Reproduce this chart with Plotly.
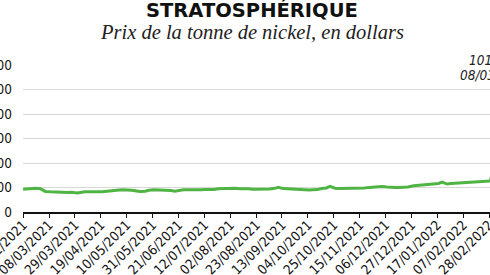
import plotly.graph_objects as go

# ---- data ----
dates = [
    "2021-02-15", "2021-02-18", "2021-02-22", "2021-02-25", "2021-03-01", "2021-03-03",
    "2021-03-05", "2021-03-09", "2021-03-12", "2021-03-16", "2021-03-19", "2021-03-23",
    "2021-03-26", "2021-03-31", "2021-04-06", "2021-04-09", "2021-04-13", "2021-04-16",
    "2021-04-20", "2021-04-23", "2021-04-27", "2021-04-30", "2021-05-04", "2021-05-07",
    "2021-05-11", "2021-05-14", "2021-05-18", "2021-05-21", "2021-05-25", "2021-05-28",
    "2021-06-01", "2021-06-04", "2021-06-08", "2021-06-11", "2021-06-15", "2021-06-18",
    "2021-06-22", "2021-06-25", "2021-06-29", "2021-07-02", "2021-07-06", "2021-07-09",
    "2021-07-13", "2021-07-16", "2021-07-20", "2021-07-23", "2021-07-27", "2021-07-30",
    "2021-08-03", "2021-08-06", "2021-08-10", "2021-08-13", "2021-08-17", "2021-08-20",
    "2021-08-24", "2021-08-27", "2021-08-31", "2021-09-03", "2021-09-07", "2021-09-10",
    "2021-09-14", "2021-09-17", "2021-09-21", "2021-09-24", "2021-09-28", "2021-10-01",
    "2021-10-05", "2021-10-08", "2021-10-12", "2021-10-15", "2021-10-19", "2021-10-22",
    "2021-10-26", "2021-10-29", "2021-11-02", "2021-11-05", "2021-11-09", "2021-11-12",
    "2021-11-16", "2021-11-19", "2021-11-23", "2021-11-26", "2021-11-30", "2021-12-03",
    "2021-12-07", "2021-12-10", "2021-12-14", "2021-12-17", "2021-12-21", "2021-12-24",
    "2021-12-29", "2022-01-04", "2022-01-07", "2022-01-11", "2022-01-14", "2022-01-18",
    "2022-01-21", "2022-01-25", "2022-01-28", "2022-02-01", "2022-02-04", "2022-02-08",
    "2022-02-11", "2022-02-15", "2022-02-18", "2022-02-22", "2022-02-25", "2022-02-28",
    "2022-03-01", "2022-03-07", "2022-03-08",
]
prices = [
    18650, 18900, 19450, 19300, 19000, 17600,
    16800, 16500, 16300, 16200, 16100, 16000,
    16100, 15600, 16500, 16700, 16500, 16600,
    16500, 16900, 17500, 17900, 18000, 18200,
    18100, 17800, 17200, 16700, 16900, 17800,
    18100, 18000, 18200, 18000, 17500, 16900,
    17800, 18200, 18100, 18300, 18100, 18200,
    18400, 18200, 18400, 18900, 19100, 19200,
    19000, 19300, 19000, 19200, 18900, 18500,
    18600, 18700, 18500, 18800, 19300, 20100,
    19100, 18900, 18700, 18900, 18600, 18000,
    17900, 18100, 18300, 19100, 19600, 20900,
    19400, 19100, 19200, 19000, 19200, 19300,
    19100, 19600, 20100, 20300, 20600, 20800,
    20400, 20000, 19900, 20000, 20100, 20500,
    21500, 22000, 22200, 22300, 22500, 23300,
    24400, 22800, 23200, 23500, 23800, 23700,
    23900, 24100, 24700, 25000, 25200, 25000,
    25300, 48000, 101365,
]
tick_dates = [
    "2021-02-15", "2021-03-08", "2021-03-29", "2021-04-19", "2021-05-10", "2021-05-31",
    "2021-06-21", "2021-07-12", "2021-08-02", "2021-08-23", "2021-09-13", "2021-10-04",
    "2021-10-25", "2021-11-15", "2021-12-06", "2021-12-27", "2022-01-17", "2022-02-07",
    "2022-02-28",
]
y_ticks = [0, 20000, 40000, 60000, 80000, 100000, 120000]
y_labels = ["0", "20.000", "40.000", "60.000", "80.000", "100.000", "120.000"]
title = "STRATOSPHÉRIQUE"
subtitle = "Prix de la tonne de nickel, en dollars"
peak_value_label = "101.365"
peak_date_label = "08/03/2022"

W, H = 490, 275
L, R, T, B = 23, 0, 65, 63
PW, PH = W - L - R, H - T - B

def px_x(p):
    return (p - L) / PW

def px_y(p):
    return (H - B - p) / PH

cond = "Liberation Sans Narrow, DejaVu Sans Condensed, Arial Narrow, sans-serif"

fig = go.Figure()
fig.add_trace(go.Scatter(
    x=dates, y=prices, mode="lines",
    line=dict(color="#4fb444", width=3),
    hoverinfo="skip", showlegend=False,
))

fig.update_layout(
    width=W, height=H,
    margin=dict(l=L, r=R, t=T, b=B, pad=0),
    paper_bgcolor="white", plot_bgcolor="white",
    showlegend=False,
    xaxis=dict(
        type="date",
        range=["2021-02-14 21:00", "2022-02-28 19:00"],
        tickvals=tick_dates,
        tickformat="%d/%m/%Y",
        tickangle=-45,
        ticks="outside", ticklen=4, tickwidth=1, tickcolor="#111",
        ticklabelstandoff=-6,
        ticklabeloverflow="allow",
        showline=True, linecolor="#111", linewidth=1.5,
        showgrid=False, zeroline=False,
        tickfont=dict(family=cond, size=13.5, color="#111"),
        automargin=False,
    ),
    yaxis=dict(
        range=[0, 120000],
        tickvals=y_ticks, ticktext=y_labels,
        showgrid=True, gridcolor="#d8d8d8", gridwidth=1,
        zeroline=False, showline=False, ticks="",
        ticklabelstandoff=10,
        ticklabeloverflow="allow",
        tickfont=dict(family=cond, size=13.5, color="#111"),
        automargin=False,
    ),
    annotations=[
        dict(text=title, xref="paper", yref="paper", x=px_x(252), y=px_y(10.5),
             xanchor="center", yanchor="middle", showarrow=False,
             font=dict(family="DejaVu Sans", size=19.5, color="#111", weight="bold")),
        dict(text=subtitle, xref="paper", yref="paper", x=px_x(252), y=px_y(32),
             xanchor="center", yanchor="middle", showarrow=False,
             font=dict(family="Liberation Serif, Times New Roman, serif", size=20.5,
                       color="#222", style="italic")),
        dict(text=peak_value_label, xref="paper", yref="paper", x=px_x(467), y=px_y(60),
             xanchor="left", yanchor="middle", showarrow=False,
             font=dict(family=cond, size=13.5, color="#222", style="italic")),
        dict(text=peak_date_label, xref="paper", yref="paper", x=px_x(458), y=px_y(75),
             xanchor="left", yanchor="middle", showarrow=False,
             font=dict(family=cond, size=13.5, color="#222", style="italic")),
    ],
)

fig.write_html("out.html")
